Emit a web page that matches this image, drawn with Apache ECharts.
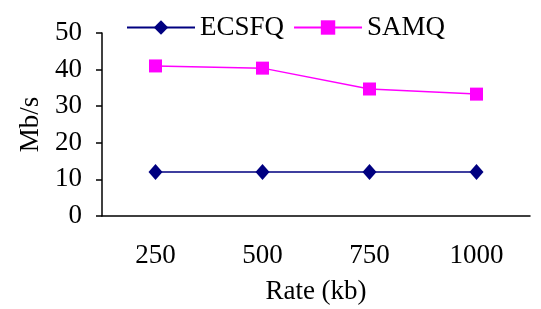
<!DOCTYPE html>
<html>
<head>
<meta charset="utf-8">
<script src="https://cdn.jsdelivr.net/npm/echarts@6/dist/echarts.min.js"></script>
<style>
  html, body { margin: 0; padding: 0; background: #fff; }
  #main { width: 541px; height: 309px; }
</style>
</head>
<body>
<div id="main"></div>
<script>
// 数据
var rates = ['250', '500', '750', '1000'];
var ecsfq = [12, 12, 12, 12];
var samq = [41, 40.4, 34.7, 33.3];

var font = 'Liberation Serif';

var myChart = echarts.init(document.getElementById('main'));
myChart.setOption({
  animation: false,
  textStyle: { fontFamily: font },
  legend: {
    top: 9,
    left: 121,
    itemGap: 9,
    itemWidth: 68,
    itemHeight: 18,
    textStyle: { fontFamily: font, fontSize: 27, color: '#000' },
    data: ['ECSFQ', 'SAMQ']
  },
  grid: { left: 102, right: 11, top: 33, bottom: 93, outerBoundsMode: 'none' },
  xAxis: {
    type: 'category',
    data: rates,
    name: 'Rate (kb)',
    nameLocation: 'middle',
    nameGap: 62,
    nameTextStyle: { fontFamily: font, fontSize: 27, color: '#000' },
    axisLine: { lineStyle: { color: '#000', width: 1.5 } },
    axisTick: { alignWithLabel: false, length: 6, lineStyle: { color: '#000', width: 1.5 } },
    axisLabel: { margin: 26, fontFamily: font, fontSize: 27, color: '#000' }
  },
  yAxis: {
    type: 'value',
    min: 0,
    max: 50,
    interval: 10,
    name: 'Mb/s',
    nameLocation: 'middle',
    nameGap: 58,
    nameTextStyle: { fontFamily: font, fontSize: 27, color: '#000' },
    splitLine: { show: false },
    axisLine: { show: true, lineStyle: { color: '#000', width: 1.5 } },
    axisTick: { show: true, length: 6, lineStyle: { color: '#000', width: 1.5 } },
    axisLabel: { margin: 20, fontFamily: font, fontSize: 27, color: '#000' }
  },
  series: [
    {
      name: 'ECSFQ',
      type: 'line',
      data: ecsfq,
      symbol: 'diamond',
      symbolSize: [14, 16],
      lineStyle: { color: '#000080', width: 1.5 },
      itemStyle: { color: '#000080' }
    },
    {
      name: 'SAMQ',
      type: 'line',
      data: samq,
      symbol: 'rect',
      symbolSize: 13,
      lineStyle: { color: '#ff00ff', width: 1.5 },
      itemStyle: { color: '#ff00ff' }
    }
  ]
});
</script>
</body>
</html>
